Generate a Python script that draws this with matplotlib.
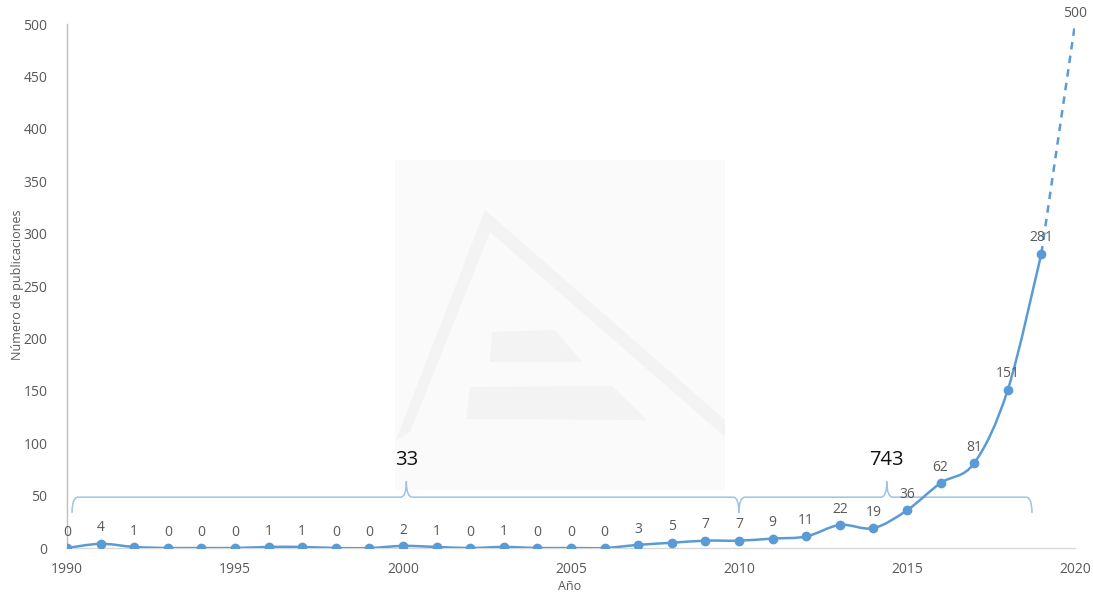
import numpy as np
import matplotlib
matplotlib.use('Agg')
import matplotlib.pyplot as plt
from matplotlib.path import Path
from matplotlib.patches import PathPatch, Polygon, Rectangle

plt.rcParams['font.family'] = ['Open Sans', 'DejaVu Sans']

years = list(range(1990, 2020))
pubs = [0, 4, 1, 0, 0, 0, 1, 1, 0, 0, 2, 1, 0, 1, 0, 0, 0, 3, 5, 7,
        7, 9, 11, 22, 19, 36, 62, 81, 151, 281]
proj_year, proj_val = 2020, 500
totals = ['33', '743']
spans = [(1990.15, 2010.0, 2000.1), (2010.0, 2018.72, 2014.4)]

BLUE = '#5b9bd5'
LIGHT = '#9dc3e6'
GRAY = '#595959'

fig = plt.figure(figsize=(10.93, 5.94), dpi=100)

# faint university watermark behind the axes (figure pixel coords, top origin)
W, H = 1093, 594
def fp(x, y):
    return (x / W, 1 - y / H)
wm = '#f3f3f3'
fig.patches.append(Rectangle(fp(395, 490), 330 / W, 330 / H, transform=fig.transFigure,
                             facecolor='#fafafa', edgecolor='none', zorder=0))
for poly in [
    [(485, 210), (725, 420), (725, 437), (490, 232), (410, 432), (396, 440)],
    [(492, 332), (555, 330), (582, 362), (490, 362)],
    [(470, 387), (612, 386), (647, 420), (466, 419)],
]:
    fig.patches.append(Polygon([fp(*p) for p in poly], closed=True, transform=fig.transFigure,
                               facecolor=wm, edgecolor='none', zorder=0))

ax = fig.add_axes([67 / W, 46 / H, (1075 - 67) / W, (548 - 24) / H])
ax.set_zorder(2)
ax.patch.set_alpha(0)

# smoothed series (Catmull-Rom style bezier through the points)
x = np.array(years, float)
y = np.array(pubs, float)
verts = [(x[0], y[0])]
codes = [Path.MOVETO]
n = len(x)
for i in range(n - 1):
    p0 = np.array([x[max(i - 1, 0)], y[max(i - 1, 0)]])
    p1 = np.array([x[i], y[i]])
    p2 = np.array([x[i + 1], y[i + 1]])
    p3 = np.array([x[min(i + 2, n - 1)], y[min(i + 2, n - 1)]])
    c1 = p1 + (p2 - p0) / 6
    c2 = p2 - (p3 - p1) / 6
    verts += [tuple(c1), tuple(c2), tuple(p2)]
    codes += [Path.CURVE4] * 3
ax.add_patch(PathPatch(Path(verts, codes), facecolor='none', edgecolor=BLUE, lw=1.8, zorder=3))
ax.plot(x, y, 'o', color=BLUE, ms=6, zorder=4)
ax.plot([years[-1], proj_year], [pubs[-1], proj_val], '--', color=BLUE, lw=1.8,
        dashes=(3, 2.5), zorder=3)

for xi, yi in zip(years, pubs):
    ax.annotate(str(yi), (xi, yi), xytext=(0, 6), textcoords='offset points',
                ha='center', va='bottom', fontsize=10, color=GRAY)
ax.annotate(str(proj_val), (proj_year, proj_val), xytext=(0, 2), textcoords='offset points',
            ha='center', va='bottom', fontsize=10, color=GRAY)

# braces grouping the periods
def brace(x0, x1, xm, yl=48.5, drop=15, rise=15, r=0.18):
    v = [(x0, yl - drop), (x0, yl), (x0 + r, yl),
         (xm - r, yl), (xm, yl), (xm, yl + rise),
         (xm, yl), (xm + r, yl),
         (x1 - r, yl), (x1, yl), (x1, yl - drop)]
    c = [Path.MOVETO, Path.CURVE3, Path.CURVE3,
         Path.LINETO, Path.CURVE3, Path.CURVE3,
         Path.CURVE3, Path.CURVE3,
         Path.LINETO, Path.CURVE3, Path.CURVE3]
    ax.add_patch(PathPatch(Path(v, c), facecolor='none', edgecolor=LIGHT, lw=1.1, zorder=2))

for (x0, x1, xm), lab in zip(spans, totals):
    brace(x0, x1, xm)
    ax.text(xm, 84, lab, ha='center', va='center', fontsize=14.5, color='#111111')

ax.set_xlim(1990, 2020)
ax.set_ylim(0, 500)
ax.set_xticks(range(1990, 2021, 5))
ax.set_yticks(range(0, 501, 50))
ax.tick_params(length=0, labelsize=10, labelcolor=GRAY)
ax.tick_params(axis='y', pad=14)
ax.tick_params(axis='x', pad=10)
for s in ['top', 'right']:
    ax.spines[s].set_visible(False)
ax.spines['left'].set_color('#bfbfbf')
ax.spines['bottom'].set_color('#d9d9d9')
ax.spines['left'].set_linewidth(1.0)
ax.spines['bottom'].set_linewidth(1.0)

fig.text(570 / W, 1 - 586 / H, 'Año', ha='center', va='center', fontsize=9, color=GRAY)
fig.text(18 / W, 1 - 285 / H, 'Número de publicaciones', ha='center', va='center',
         rotation=90, fontsize=9, color=GRAY)

fig.savefig('out.png', dpi=100)
